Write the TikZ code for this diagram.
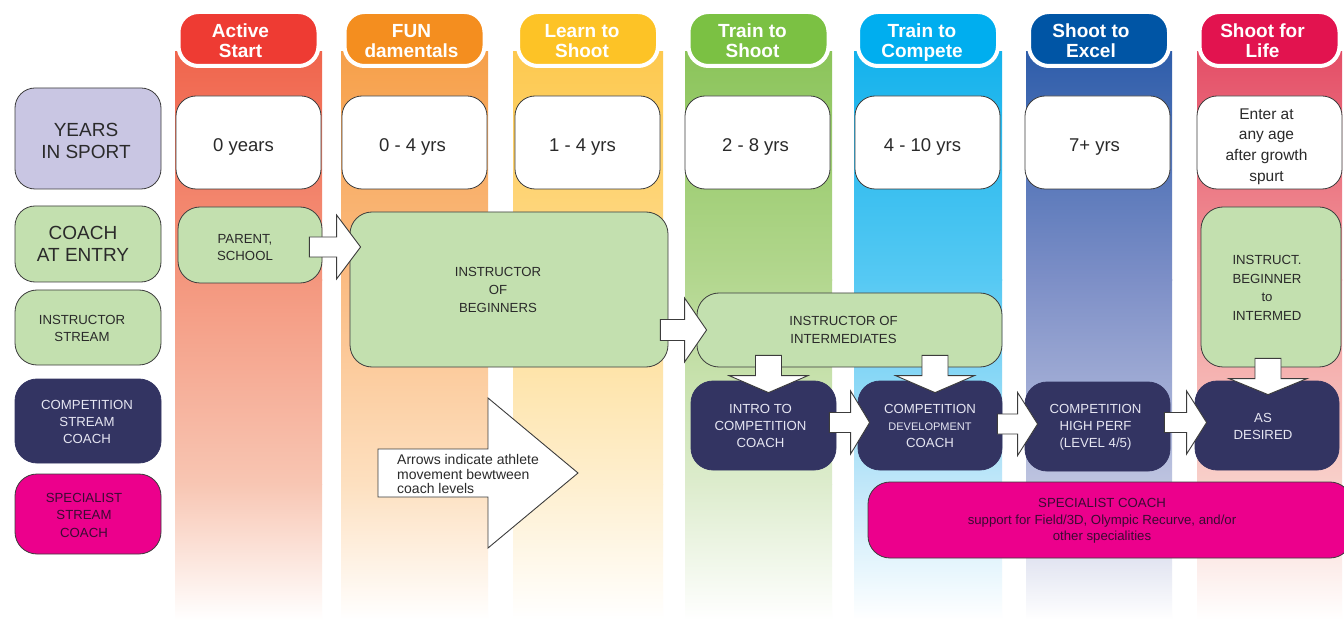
\documentclass[tikz,border=0pt]{standalone}
\usepackage{fontspec}
\setmainfont{Liberation Sans}
\usetikzlibrary{calc}

\definecolor{linec}{HTML}{3C3C3C}
\definecolor{txtc}{HTML}{2A2A2A}
\definecolor{grn}{HTML}{C3E0AF}
\definecolor{lav}{HTML}{C9C6E3}
\definecolor{navy}{HTML}{333462}
\definecolor{navytxt}{HTML}{E6E6F2}
\definecolor{mag}{HTML}{EC008C}
\definecolor{spectxt}{HTML}{3B0B33}
% tab colours
\definecolor{tA}{HTML}{EE3B33}
\definecolor{tB}{HTML}{F48E1F}
\definecolor{tC}{HTML}{FDC326}
\definecolor{tD}{HTML}{7BC143}
\definecolor{tE}{HTML}{00AEEF}
\definecolor{tF}{HTML}{0055A5}
\definecolor{tG}{HTML}{E2134F}
% column colours: top, mid, low
\definecolor{aT}{HTML}{F0654D}\definecolor{aM}{HTML}{F4977E}\definecolor{aL}{HTML}{F8C6B3}
\definecolor{bT}{HTML}{F6A04A}\definecolor{bM}{HTML}{FBBC83}\definecolor{bL}{HTML}{FDE0C0}
\definecolor{cT}{HTML}{FDC94F}\definecolor{cM}{HTML}{FEDB8D}\definecolor{cL}{HTML}{FEEFCF}
\definecolor{dT}{HTML}{8BC45A}\definecolor{dM}{HTML}{B3D78F}\definecolor{dL}{HTML}{DDECCD}
\definecolor{eT}{HTML}{14B2EC}\definecolor{eM}{HTML}{56C9F3}\definecolor{eL}{HTML}{C0E7F9}
\definecolor{fT}{HTML}{2E5DAA}\definecolor{fM}{HTML}{7D8FC7}\definecolor{fL}{HTML}{BEC4E0}
\definecolor{gT}{HTML}{E44E67}\definecolor{gM}{HTML}{F29A9C}\definecolor{gL}{HTML}{F8D0CA}

\tikzset{
  tabbox/.style={rounded corners=20pt, draw=white, line width=4pt, text=white,
    font=\bfseries\fontsize{19}{20}\selectfont, align=center, inner sep=0pt},
  base/.style={draw=linec, line width=0.8pt, align=center, inner sep=0pt, text=txtc},
  yearbox/.style={base, fill=white, rounded corners=20pt, font=\fontsize{18.5}{21}\selectfont},
  lavbox/.style={base, fill=lav, rounded corners=20pt, font=\fontsize{19}{22}\selectfont},
  greenlbl/.style={base, fill=grn, rounded corners=20pt, font=\fontsize{19}{22}\selectfont},
  greenbox/.style={base, fill=grn, rounded corners=22pt, font=\fontsize{13.2}{17}\selectfont},
  navybox/.style={draw=navy, fill=navy, line width=0.8pt, rounded corners=22pt, text=navytxt,
    align=center, inner sep=0pt, font=\fontsize{13.2}{17}\selectfont},
  specbox/.style={base, fill=mag, rounded corners=22pt, text=spectxt, font=\fontsize{13.2}{17.5}\selectfont},
  plaintext/.style={align=center, inner sep=0pt, text=txtc, font=\fontsize{13.2}{18}\selectfont},
  blockarrow/.style={draw=linec, fill=white, line width=0.9pt, line join=miter},
}

% box from pixel corners: [text offset], style, name, x1, y1, x2, y2, text
\newcommand\placebox[8][(0,0)]{%
  \node[#2, minimum width={#6pt-#4pt}, minimum height={#7pt-#5pt}] (#3) at ({(#4+#6)/2},{-(#5+#7)/2}) {};
  \node[#2, draw=none, fill=none, minimum width=0pt, minimum height=0pt] (#3-text) at ($(#3.center)+#1$) {#8};}
% column: x1, x2, top, mid, low colours
\newcommand\column[5]{%
  \shade[top color=#3, bottom color=#4] (#1,-52) rectangle (#2,-280.5);
  \shade[top color=#4, bottom color=#5] (#1,-280) rectangle (#2,-484.5);
  \shade[top color=#5, bottom color=white] (#1,-484) rectangle (#2,-620);}
% horizontal block arrow: start, tip, shaft half, head half, head length
\newcommand\harr[5]{\draw[blockarrow] let \p1=#1, \p2=#2 in
  (\x1,\y2+#3pt) -- (\x2-#5pt,\y2+#3pt) -- (\x2-#5pt,\y2+#4pt) -- (\p2) --
  (\x2-#5pt,\y2-#4pt) -- (\x2-#5pt,\y2-#3pt) -- (\x1,\y2-#3pt) -- cycle;}
% vertical (downward) block arrow: start, tip, shaft half, head half, head length
\newcommand\varr[5]{\draw[blockarrow] let \p1=#1, \p2=#2 in
  (\x2-#3pt,\y1) -- (\x2-#3pt,\y2+#5pt) -- (\x2-#4pt,\y2+#5pt) -- (\p2) --
  (\x2+#4pt,\y2+#5pt) -- (\x2+#3pt,\y2+#5pt) -- (\x2+#3pt,\y1) -- cycle;}

\begin{document}
\begin{tikzpicture}[x=1pt,y=1pt]
\useasboundingbox[fill=white] (0,0) rectangle (1344,-620);

% columns
\column{175}{322}{aT}{aM}{aL}
\column{341}{488}{bT}{bM}{bL}
\column{513}{663}{cT}{cM}{cL}
\column{685}{832}{dT}{dM}{dL}
\column{854}{1002}{eT}{eM}{eL}
\column{1026}{1172}{fT}{fM}{fL}
\column{1197}{1342}{gT}{gM}{gL}

% tabs
\placebox[(-8,-2)]{tabbox, fill=tA}{tab1}{178.5}{12}{318.5}{66}{Active\\Start}
\placebox[(-3,-2)]{tabbox, fill=tB}{tab2}{344.5}{12}{484.5}{66}{FUN\\damentals}
\placebox[(-6,-2)]{tabbox, fill=tC}{tab3}{518}{12}{658}{66}{Learn to\\Shoot}
\placebox[(-6,-2)]{tabbox, fill=tD}{tab4}{688.5}{12}{828.5}{66}{Train to\\Shoot}
\placebox[(-6,-4)]{tabbox, fill=tE}{tab5}{858}{12}{998}{66}{Train to\\Compete}
\placebox[(-8,-2)]{tabbox, fill=tF}{tab6}{1029}{12}{1169}{66}{Shoot to\\Excel}
\placebox[(-7,-2)]{tabbox, fill=tG}{tab7}{1199.5}{12}{1339.5}{66}{Shoot for\\Life}

% left labels
\placebox[(-2,-2)]{lavbox}{lyears}{15}{88}{161}{189}{YEARS\\IN SPORT}
\placebox[(-5,0)]{greenlbl}{lcoach}{15}{206}{161}{282}{COACH\\AT ENTRY}
\placebox[(-6,-1)]{greenbox}{linstr}{15}{290}{161}{365}{INSTRUCTOR\\STREAM}
\placebox[(-1,-1)]{navybox}{lcomp}{15}{379}{161}{463}{COMPETITION\\STREAM\\COACH}
\placebox[(-4,-1)]{specbox}{lspec}{15}{474}{161}{554}{SPECIALIST\\STREAM\\COACH}

% years in sport
\placebox[(-5,-4.5)]{yearbox}{y1}{176}{96}{321}{189}{0 years}
\placebox[(-2,-4.5)]{yearbox}{y2}{342}{96}{487}{189}{0 - 4 yrs}
\placebox[(-5,-4.5)]{yearbox}{y3}{515}{96}{660}{189}{1 - 4 yrs}
\placebox[(-2,-4.5)]{yearbox}{y4}{685}{96}{830}{189}{2 - 8 yrs}
\placebox[(-5,-4.5)]{yearbox}{y5}{855}{96}{1000}{189}{4 - 10 yrs}
\placebox[(-3,-4.5)]{yearbox}{y6}{1025}{96}{1170}{189}{7+ yrs}
\placebox[(-3,-4)]{yearbox, font=\fontsize{15.5}{20.8}\selectfont}{y7}{1197}{96}{1342}{189}{Enter at\\any age\\after growth\\spurt}

% instructor stream
\placebox{greenbox}{beginners}{350}{212}{668}{367}{}
\node[plaintext] (begtxt) at (498,-290) {INSTRUCTOR\\OF\\BEGINNERS};
\placebox[(-6,0)]{greenbox, font=\fontsize{13.2}{18}\selectfont}{inter}{697}{293}{1002}{367}{INSTRUCTOR OF\\INTERMEDIATES}
\placebox[(-4,-1)]{greenbox, font=\fontsize{13.2}{18.5}\selectfont}{instr}{1201}{207}{1341}{367}{INSTRUCT.\\BEGINNER\\to\\INTERMED}
\placebox[(-5,-3)]{greenbox}{parent}{178}{207}{322}{283}{PARENT,\\SCHOOL}

% competition stream
\placebox[(-3,-0.5)]{navybox}{intro}{691}{381}{836}{470}{INTRO TO\\COMPETITION\\COACH}
\placebox[(0,-0.5)]{navybox}{dev}{858}{381}{1002}{470}{COMPETITION\\{\fontsize{11}{17}\selectfont DEVELOPMENT}\\COACH}
\placebox[(-2,-0.5)]{navybox}{high}{1025}{382}{1170}{471}{COMPETITION\\HIGH PERF\\(LEVEL 4/5)}
\placebox[(-4,-0.5)]{navybox}{asd}{1195}{381}{1339}{470}{AS\\DESIRED}

% specialist
\placebox{specbox}{spec}{868}{482}{1352}{558}{}
\node[plaintext, text=spectxt, font=\fontsize{13.2}{16.5}\selectfont] (spectext) at (1102,-521)
  {SPECIALIST COACH\\support for Field/3D, Olympic Recurve, and/or\\other specialities};

% block arrows
\harr{($(parent.east)+(-13,0)$)}{($(beginners.west|-parent.east)+(11,-2)$)}{10}{32}{24}
\harr{($(beginners.east)+(-8,0)$)}{($(inter.west)+(10,0)$)}{10.5}{32}{22}
\varr{($(inter.south)+(0,12)$)}{($(intro.north)+(5,-12)$)}{13}{39.5}{17}
\varr{($(inter.south)+(0,12)$)}{($(dev.north)+(5,-12)$)}{13}{39.5}{17}
\varr{($(instr.south)+(0,9)$)}{($(asd.north)+(1,-14)$)}{13}{39}{16}
\harr{($(intro.east)+(-7,0)$)}{($(dev.west)+(12,3)$)}{10}{31.5}{19}
\harr{($(dev.east)+(-5,0)$)}{($(high.west)+(13,2.5)$)}{10}{31.5}{20}
\harr{($(high.east)+(-6,0)$)}{($(asd.west)+(12,3)$)}{10}{31.5}{20}

% legend arrow
\coordinate (lgstart) at (378,-473);
\coordinate (lgtip) at (578,-473);
\harr{(lgstart)}{(lgtip)}{24}{75}{90}
\node[anchor=west, align=left, inner sep=0pt, text=txtc, font=\fontsize{14}{14.5}\selectfont] (legend) at (397,-474)
  {Arrows indicate athlete\\movement bewtween\\coach levels};
\end{tikzpicture}
\end{document}
